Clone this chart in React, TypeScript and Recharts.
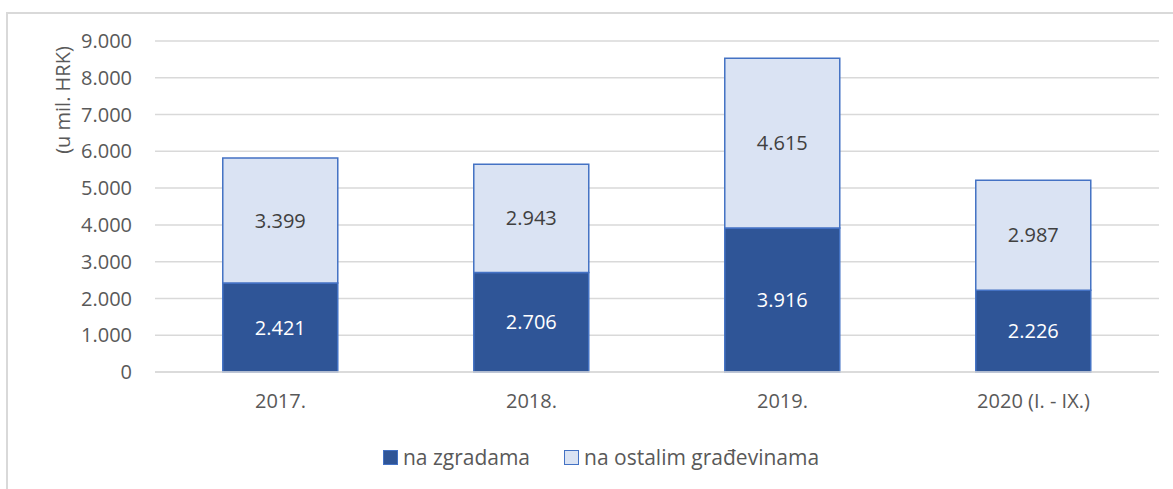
import { Bar, BarChart, CartesianGrid, LabelList, Legend, XAxis, YAxis } from "recharts"

const CATEGORIES = ["2017.", "2018.", "2019.", "2020 (I. - IX.)"]
const NA_ZGRADAMA = [2421, 2706, 3916, 2226]
const NA_OSTALIM = [3399, 2943, 4615, 2987]
const Y_TICKS = [0, 1000, 2000, 3000, 4000, 5000, 6000, 7000, 8000, 9000]

const SERIES = [
  { key: "zgrade", name: "na zgradama", fill: "#2F5597", text: "#FFFFFF" },
  { key: "ostalo", name: "na ostalim građevinama", fill: "#DAE3F3", text: "#404040" },
]

const FONT = "'Open Sans', sans-serif"
const AXIS_TEXT = "#595959"

const data = CATEGORIES.map((name, i) => ({
  name,
  zgrade: NA_ZGRADAMA[i],
  ostalo: NA_OSTALIM[i],
}))

function formatThousands(value: number) {
  return String(value).replace(/\B(?=(\d{3})+(?!\d))/g, ".")
}

function renderLegend() {
  return (
    <div
      style={{
        display: "flex",
        justifyContent: "center",
        gap: 34,
        fontFamily: FONT,
        fontSize: 21,
        color: AXIS_TEXT,
        height: 26,
        alignItems: "center",
        paddingLeft: 43,
      }}
    >
      {SERIES.map((s) => (
        <div key={s.key} style={{ display: "flex", alignItems: "center", gap: 5 }}>
          <span
            style={{
              display: "inline-block",
              width: 13,
              height: 13,
              background: s.fill,
              border: "1.5px solid #4472C4",
            }}
          />
          <span>{s.name}</span>
        </div>
      ))}
    </div>
  )
}

function YLabel() {
  return (
    <text
      x={62}
      y={100}
      transform="rotate(-90 62 100)"
      textAnchor="middle"
      dominantBaseline="central"
      fill={AXIS_TEXT}
      fontFamily={FONT}
      fontSize={20}
    >
      (u mil. HRK)
    </text>
  )
}

export default function App() {
  return (
    <div style={{ position: "absolute", left: 0, top: 0, width: 1173, height: 489, background: "#fff", overflow: "hidden" }}>
      <div
        style={{
          position: "absolute",
          left: 6,
          top: 12,
          width: 1200,
          height: 520,
          borderLeft: "2px solid #d9d9d9",
          borderTop: "2px solid #d9d9d9",
        }}
      />
      <div style={{ position: "absolute", left: 0, top: 0 }}>
        <BarChart
          width={1173}
          height={489}
          data={data}
          barCategoryGap="27%"
          margin={{ top: 41, right: 14, left: 0, bottom: 19 }}
        >
          <CartesianGrid vertical={false} stroke="#d9d9d9" strokeWidth={1.5} />
          <XAxis
            dataKey="name"
            axisLine={{ stroke: "#d9d9d9", strokeWidth: 1.5 }}
            tickLine={false}
            tickSize={0}
            tickMargin={22}
            height={72}
            tick={{ fill: AXIS_TEXT, fontFamily: FONT, fontSize: 20 }}
          />
          <YAxis
            width={155}
            domain={[0, 9000]}
            ticks={Y_TICKS}
            interval={0}
            axisLine={false}
            tickLine={false}
            tickSize={0}
            tickMargin={23}
            tickFormatter={(v: number) => formatThousands(v)}
            tick={{ fill: AXIS_TEXT, fontFamily: FONT, fontSize: 20 }}
            label={<YLabel />}
          />
          <Legend verticalAlign="bottom" content={renderLegend} />
          {SERIES.map((s) => (
            <Bar
              key={s.key}
              dataKey={s.key}
              name={s.name}
              stackId="a"
              fill={s.fill}
              stroke="#4472C4"
              strokeWidth={1.5}
              isAnimationActive={false}
            >
              <LabelList
                dataKey={s.key}
                position="center"
                formatter={(v: number) => formatThousands(v)}
                fill={s.text}
                fontFamily={FONT}
                fontSize={20}
              />
            </Bar>
          ))}
        </BarChart>
      </div>
    </div>
  )
}
